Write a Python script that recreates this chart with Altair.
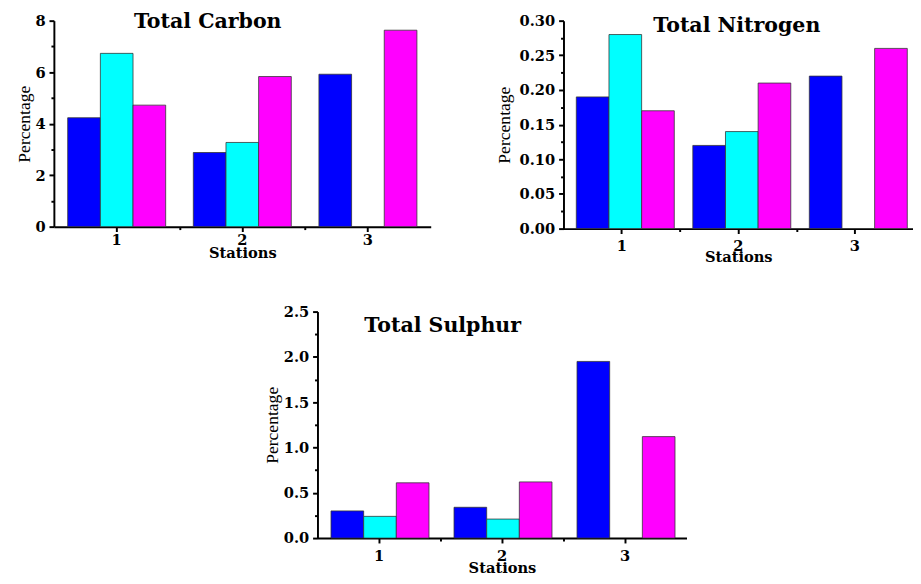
import altair as alt
import pandas as pd

stations = ["1", "2", "3"]
series = ["Series 1", "Series 2", "Series 3"]
colors = ["#0000FF", "#00FFFF", "#FF00FF"]

carbon_s1 = [4.23, 2.88, 5.92]
carbon_s2 = [6.73, 3.27, None]
carbon_s3 = [4.72, 5.83, 7.63]

nitrogen_s1 = [0.19, 0.12, 0.22]
nitrogen_s2 = [0.28, 0.14, None]
nitrogen_s3 = [0.17, 0.21, 0.26]

sulphur_s1 = [0.30, 0.34, 1.95]
sulphur_s2 = [0.24, 0.21, None]
sulphur_s3 = [0.61, 0.62, 1.12]

carbon_ticks = [0, 1, 2, 3, 4, 5, 6, 7, 8]
nitrogen_ticks = [0, 0.025, 0.05, 0.075, 0.10, 0.125, 0.15, 0.175, 0.20, 0.225, 0.25, 0.275, 0.30]
sulphur_ticks = [0, 0.25, 0.5, 0.75, 1.0, 1.25, 1.5, 1.75, 2.0, 2.25, 2.5]
station_minor_ticks = [1.5, 2.5]

SERIF = "DejaVu Serif"


def panel(title, s1, s2, s3, ymax, ticks, major_test, fmt, width, height,
          title_x, title_y, title_pad, x_label_pad, x_title_pad):
    rows = []
    for i, st in enumerate(stations):
        for name, vals in zip(series, [s1, s2, s3]):
            rows.append({"Station": st, "Series": name, "Value": vals[i]})
    df = pd.DataFrame(rows)
    bars = alt.Chart(df).mark_bar(stroke="#333333", strokeWidth=0.8).encode(
        x=alt.X("Station:N",
                scale=alt.Scale(domain=stations, paddingInner=0.22, paddingOuter=0.11),
                axis=alt.Axis(title="Stations", labelAngle=0, labelPadding=x_label_pad,
                              titlePadding=x_title_pad, tickSize=5, orient="bottom")),
        xOffset=alt.XOffset("Series:N", scale=alt.Scale(domain=series, paddingInner=0, paddingOuter=0)),
        y=alt.Y("Value:Q",
                scale=alt.Scale(domain=[0, ymax], nice=False, zero=True),
                axis=alt.Axis(title="Percentage", values=ticks, format=fmt,
                              labelExpr="(" + major_test + ") ? datum.label : ''",
                              tickSize={"condition": {"test": major_test, "value": 5}, "value": 3},
                              labelPadding=4, titlePadding=title_pad,
                              titleFont="Liberation Serif", titleFontSize=18,
                              titleFontWeight="normal")),
        color=alt.Color("Series:N", scale=alt.Scale(domain=series, range=colors), legend=None),
    )
    minor = alt.Chart(pd.DataFrame({"m": station_minor_ticks})).mark_point(
        size=0, opacity=0, strokeWidth=0
    ).encode(
        x=alt.X("m:Q", scale=alt.Scale(domain=[0.5, 3.5], nice=False, zero=False),
                axis=alt.Axis(values=station_minor_ticks, labels=False, domain=False,
                              title=None, tickSize=3, orient="bottom")),
        y=alt.value(0),
    )
    label = alt.Chart(pd.DataFrame({"title": [title]})).mark_text(
        align="left", baseline="alphabetic", font=SERIF, fontSize=21,
        fontWeight="bold", color="black"
    ).encode(text="title:N", x=alt.value(title_x), y=alt.value(title_y))
    return alt.layer(bars, minor, label).resolve_scale(x="independent").resolve_axis(
        x="independent"
    ).properties(width=width, height=height)


carbon = panel("Total Carbon", carbon_s1, carbon_s2, carbon_s3, 8, carbon_ticks,
               "datum.value % 2 === 0", "d", 386, 211, 82, 7, 2, 1, -1)
nitrogen = panel("Total Nitrogen", nitrogen_s1, nitrogen_s2, nitrogen_s3, 0.30, nitrogen_ticks,
                 "round(datum.value * 1000) % 50 === 0", ".2f", 358, 213, 92, 12, 6, 5, -3)
sulphur = panel("Total Sulphur", sulphur_s1, sulphur_s2, sulphur_s3, 2.5, sulphur_ticks,
                "round(datum.value * 100) % 50 === 0", ".1f", 378, 232, 48, 21, 2, 6, -3)

spacer = alt.Chart(pd.DataFrame({"v": [0]})).mark_point(size=0, opacity=0, strokeWidth=0).encode(
    x=alt.value(0), y=alt.value(0)
).properties(width=214, height=10)

top = alt.hconcat(carbon, nitrogen, spacing=66)
bottom = alt.hconcat(spacer, sulphur, spacing=0)

chart = alt.vconcat(top, bottom, spacing=41).properties(
    padding={"left": 7, "top": -4, "right": 0, "bottom": 0}
).configure_view(
    strokeWidth=0
).configure_axis(
    domainColor="black", domainWidth=2, tickColor="black", tickWidth=2,
    labelFont=SERIF, labelFontWeight="bold", labelFontSize=15, labelColor="black",
    titleFont=SERIF, titleFontWeight="bold", titleFontSize=15, titleColor="black",
    grid=False
)

chart.save("out.html", embed_options={"renderer": "svg", "actions": False})
